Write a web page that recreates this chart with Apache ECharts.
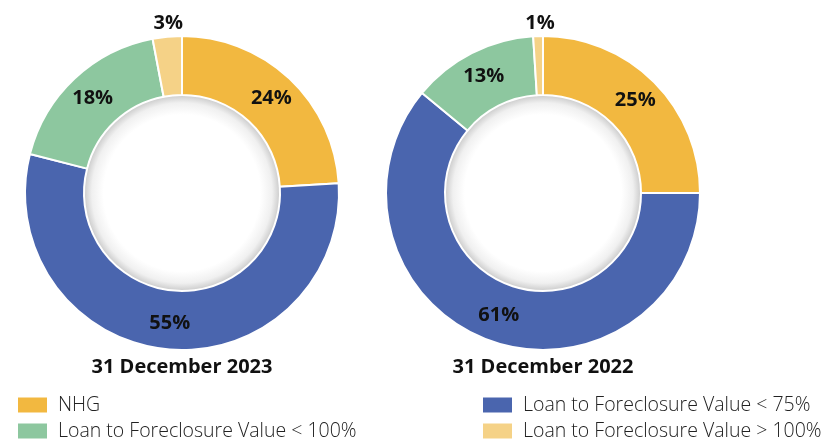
<!DOCTYPE html>
<html>
<head>
<meta charset="utf-8">
<script src="https://cdn.jsdelivr.net/npm/echarts@6/dist/echarts.min.js"></script>
<style>
  html, body { margin: 0; padding: 0; background: #fff; }
  #chart { width: 822px; height: 441px; }
</style>
</head>
<body>
<div id="chart"></div>
<script>
const categories = [
  "NHG",
  "Loan to Foreclosure Value < 75%",
  "Loan to Foreclosure Value < 100%",
  "Loan to Foreclosure Value > 100%"
];
const colors = ["#F2B840", "#4A65AE", "#8DC79F", "#F5D287"];
const values2023 = [24, 55, 18, 3];
const values2022 = [25, 61, 13, 1];
const titles = ["31 December 2023", "31 December 2022"];

const myChart = echarts.init(document.getElementById("chart"));

const labelFont = "'Open Sans', Lato, sans-serif";

function buildData(values) {
  return values.map((v, i) => {
    const item = {
      name: categories[i],
      value: v,
      itemStyle: { color: colors[i] }
    };
    // the tiny slices get their label outside, above the ring
    if (v < 5) {
      item.label = {
        position: "outside",
        distanceToLabelLine: 0,
        offset: [17, 0]
      };
      item.labelLine = { show: false, length: 13, length2: 0 };
    }
    return item;
  });
}

function ring(values, cx) {
  return {
    type: "pie",
    center: [cx, 193],
    radius: [98, 157],
    startAngle: 90,
    clockwise: true,
    avoidLabelOverlap: false,
    itemStyle: { borderColor: "#fff", borderWidth: 2 },
    label: {
      show: true,
      position: "inside",
      formatter: "{c}%",
      color: "#111",
      fontFamily: labelFont,
      fontWeight: "bold",
      fontSize: 20
    },
    emphasis: { disabled: true },
    data: buildData(values)
  };
}

// soft grey shadow inside the hole
function hole(cx) {
  return {
    type: "pie",
    silent: true,
    center: [cx, 193],
    radius: [0, 98],
    label: { show: false },
    labelLine: { show: false },
    emphasis: { disabled: true },
    data: [{
      value: 1,
      name: "hole",
      itemStyle: {
        color: new echarts.graphic.RadialGradient(0.5, 0.5, 0.5, [
          { offset: 0, color: "#ffffff" },
          { offset: 0.8, color: "#ffffff" },
          { offset: 0.92, color: "#f0f0f0" },
          { offset: 1, color: "#cbcbcb" }
        ])
      }
    }]
  };
}

const legendText = {
  color: "#222",
  fontFamily: labelFont,
  fontWeight: 300,
  fontSize: 19.5,
  padding: [0, 0, 0, 5]
};

const titleText = { color: "#111", fontFamily: labelFont, fontWeight: "bold", fontSize: 20 };

myChart.setOption({
  animation: false,
  title: [
    { text: titles[0], left: 182, top: 357, textAlign: "center", padding: 0, textStyle: titleText },
    { text: titles[1], left: 543, top: 357, textAlign: "center", padding: 0, textStyle: titleText }
  ],
  legend: [
    {
      data: [categories[0], categories[2]],
      orient: "vertical",
      left: 16, top: 395, height: 60, padding: 0,
      icon: "rect", itemWidth: 31, itemHeight: 17, itemGap: 6,
      selectedMode: false,
      textStyle: legendText
    },
    {
      data: [categories[1], categories[3]],
      orient: "vertical",
      left: 481, top: 395, height: 60, padding: 0,
      icon: "rect", itemWidth: 31, itemHeight: 17, itemGap: 6,
      selectedMode: false,
      textStyle: legendText
    }
  ],
  series: [
    hole(182),
    hole(543),
    ring(values2023, 182),
    ring(values2022, 543)
  ]
});

window.addEventListener("resize", () => {
  myChart.resize();
});
</script>
</body>
</html>
